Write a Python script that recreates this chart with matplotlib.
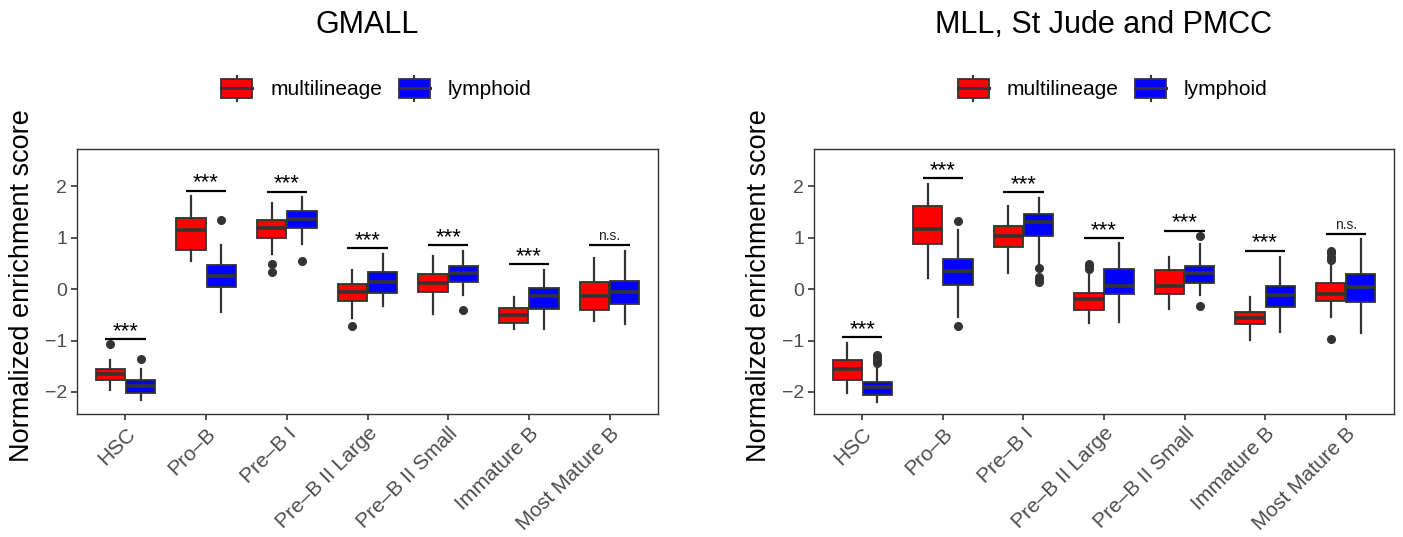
import matplotlib
matplotlib.use("Agg")
import matplotlib.pyplot as plt
from matplotlib.patches import Patch, Rectangle
from matplotlib.lines import Line2D
from matplotlib.legend_handler import HandlerBase

plt.rcParams['font.family'] = ['Liberation Sans', 'DejaVu Sans']

categories = ["HSC", "Pro\u2013B", "Pre\u2013B I", "Pre\u2013B II Large",
              "Pre\u2013B II Small", "Immature B", "Most Mature B"]

# box summaries per category: whisker low, q1, median, q3, whisker high
gmall_multi = [[-1.97, -1.77, -1.66, -1.56, -1.37],
               [0.55, 0.77, 1.15, 1.38, 1.81],
               [0.68, 1.00, 1.20, 1.34, 1.68],
               [-0.56, -0.23, -0.06, 0.10, 0.37],
               [-0.49, -0.06, 0.12, 0.29, 0.64],
               [-0.77, -0.66, -0.51, -0.37, -0.15],
               [-0.62, -0.41, -0.13, 0.14, 0.61]]
gmall_multi_out = [[-1.06], [], [0.49, 0.33], [-0.71], [], [], []]

gmall_lymph = [[-2.15, -2.02, -1.89, -1.77, -1.56],
               [-0.44, 0.05, 0.25, 0.47, 0.87],
               [0.88, 1.20, 1.37, 1.53, 1.79],
               [-0.33, -0.08, 0.14, 0.34, 0.68],
               [-0.12, 0.14, 0.31, 0.45, 0.75],
               [-0.77, -0.38, -0.13, 0.03, 0.38],
               [-0.67, -0.28, -0.05, 0.16, 0.75]]
gmall_lymph_out = [[-1.36], [1.34], [0.55], [], [-0.41], [], []]

gmall_sig_y = [-0.97, 1.92, 1.90, 0.80, 0.86, 0.49, 0.86]
gmall_sig = ["***", "***", "***", "***", "***", "***", "n.s."]

mll_multi = [[-2.03, -1.77, -1.56, -1.38, -1.04],
             [0.21, 0.88, 1.18, 1.62, 2.04],
             [0.32, 0.82, 1.04, 1.24, 1.62],
             [-0.66, -0.40, -0.20, -0.07, 0.33],
             [-0.38, -0.10, 0.06, 0.37, 0.62],
             [-0.98, -0.67, -0.56, -0.44, -0.15],
             [-0.54, -0.23, -0.09, 0.12, 0.50]]
mll_multi_out = [[], [], [], [0.40, 0.45, 0.50], [], [],
                 [0.57, 0.63, 0.70, 0.74, -0.97]]

mll_lymph = [[-2.19, -2.06, -1.90, -1.80, -1.47],
             [-0.55, 0.08, 0.35, 0.58, 1.15],
             [0.50, 1.04, 1.31, 1.46, 1.78],
             [-0.64, -0.10, 0.06, 0.40, 0.89],
             [-0.12, 0.13, 0.31, 0.45, 0.88],
             [-0.83, -0.34, -0.12, 0.06, 0.63],
             [-0.85, -0.25, 0.04, 0.29, 0.97]]
mll_lymph_out = [[-1.28, -1.33, -1.38, -1.43], [1.32, -0.71],
                 [0.42, 0.24, 0.18, 0.14], [], [1.03, -0.33], [], []]

mll_sig_y = [-0.93, 2.16, 1.89, 1.00, 1.14, 0.75, 1.08]
mll_sig = ["***", "***", "***", "***", "***", "***", "n.s."]

groups = ["multilineage", "lymphoid"]
group_colors = ["#FF0000", "#0000FF"]
EDGE = "#333333"
TICK = "#4D4D4D"


def to_stats(summary, outliers):
    stats = []
    for (lo, q1, med, q3, hi), fl in zip(summary, outliers):
        stats.append(dict(whislo=lo, q1=q1, med=med, q3=q3, whishi=hi, fliers=fl))
    return stats


class BoxKey(HandlerBase):
    def create_artists(self, legend, orig_handle, xdescent, ydescent,
                       width, height, fontsize, trans):
        x0, y0 = -xdescent, -ydescent
        pad = height * 0.14
        cx = x0 + width / 2
        whisk = Line2D([cx, cx], [y0 - pad, y0 + height + pad], color=EDGE,
                       lw=1.5, transform=trans)
        rect = Rectangle((x0, y0), width, height,
                         facecolor=orig_handle.get_facecolor(),
                         edgecolor=EDGE, lw=1.3, transform=trans)
        med = Line2D([x0, x0 + width], [y0 + height / 2] * 2, color=EDGE,
                     lw=2.2, transform=trans)
        return [whisk, rect, med]


def draw_panel(ax, title, multi, multi_out, lymph, lymph_out, sig_y, sig):
    pos = list(range(1, len(categories) + 1))
    series = [(multi, multi_out), (lymph, lymph_out)]
    for k, (summ, outl) in enumerate(series):
        offs = -0.1875 if k == 0 else 0.1875
        ax.bxp(to_stats(summ, outl), positions=[p + offs for p in pos],
               widths=0.365, patch_artist=True, showcaps=False,
               boxprops=dict(facecolor=group_colors[k], edgecolor=EDGE, lw=1.3),
               medianprops=dict(color=EDGE, lw=2.6, solid_capstyle="butt"),
               whiskerprops=dict(color=EDGE, lw=1.6),
               flierprops=dict(marker="o", markerfacecolor=EDGE,
                               markeredgecolor=EDGE, markersize=5.5))

    for p, y, lab in zip(pos, sig_y, sig):
        ax.plot([p - 0.25, p + 0.25], [y, y], color="black", lw=1.6,
                solid_capstyle="butt")
        if lab == "n.s.":
            ax.annotate(lab, xy=(p, y), xytext=(0, 3.5),
                        textcoords="offset points", ha="center",
                        va="baseline", fontsize=10, color="#222222")
        else:
            ax.annotate(lab, xy=(p, y), xytext=(0, 1.5),
                        textcoords="offset points", ha="center",
                        va="baseline", fontsize=16, color="black")

    ax.set_xlim(0.4, 7.6)
    ax.set_ylim(-2.43, 2.73)
    ax.set_xticks(pos)
    ax.set_xticklabels(categories, rotation=45, ha="right", va="top",
                       rotation_mode="anchor")
    ax.set_yticks([-2, -1, 0, 1, 2])
    ax.set_yticklabels(["\u22122", "\u22121", "0", "1", "2"])
    ax.tick_params(colors=EDGE, labelcolor=TICK, labelsize=14,
                   length=4, width=1.2, pad=3)
    ax.tick_params(axis="x", labelsize=15)
    for sp in ax.spines.values():
        sp.set_color(EDGE)
        sp.set_linewidth(1.0)

    ax.text(0.5, 1.468, title, transform=ax.transAxes, ha="center",
            va="center", fontsize=22, color="black")

    handles = [Patch(facecolor=c, edgecolor=EDGE, label=g)
               for g, c in zip(groups, group_colors)]
    ax.legend(handles=handles, handler_map={Patch: BoxKey()}, loc="center",
              bbox_to_anchor=(0.515, 1.226), ncol=2, frameon=False,
              fontsize=15, handlelength=1.5, handleheight=1.05,
              handletextpad=0.85, columnspacing=0.8)


fig = plt.figure(figsize=(14.03, 5.37), dpi=100)
W, H = 1403, 537
ax1 = fig.add_axes([77 / W, 1 - 414 / H, 581 / W, 265 / H])
ax2 = fig.add_axes([814 / W, 1 - 414 / H, 580 / W, 265 / H])

draw_panel(ax1, "GMALL", gmall_multi, gmall_multi_out,
           gmall_lymph, gmall_lymph_out, gmall_sig_y, gmall_sig)
draw_panel(ax2, "MLL, St Jude and PMCC", mll_multi, mll_multi_out,
           mll_lymph, mll_lymph_out, mll_sig_y, mll_sig)

for xpix in (22, 759):
    fig.text(xpix / W, 1 - 286 / H, "Normalized enrichment score",
             rotation=90, ha="center", va="center", fontsize=19.5)

fig.savefig("out.png", dpi=100)
